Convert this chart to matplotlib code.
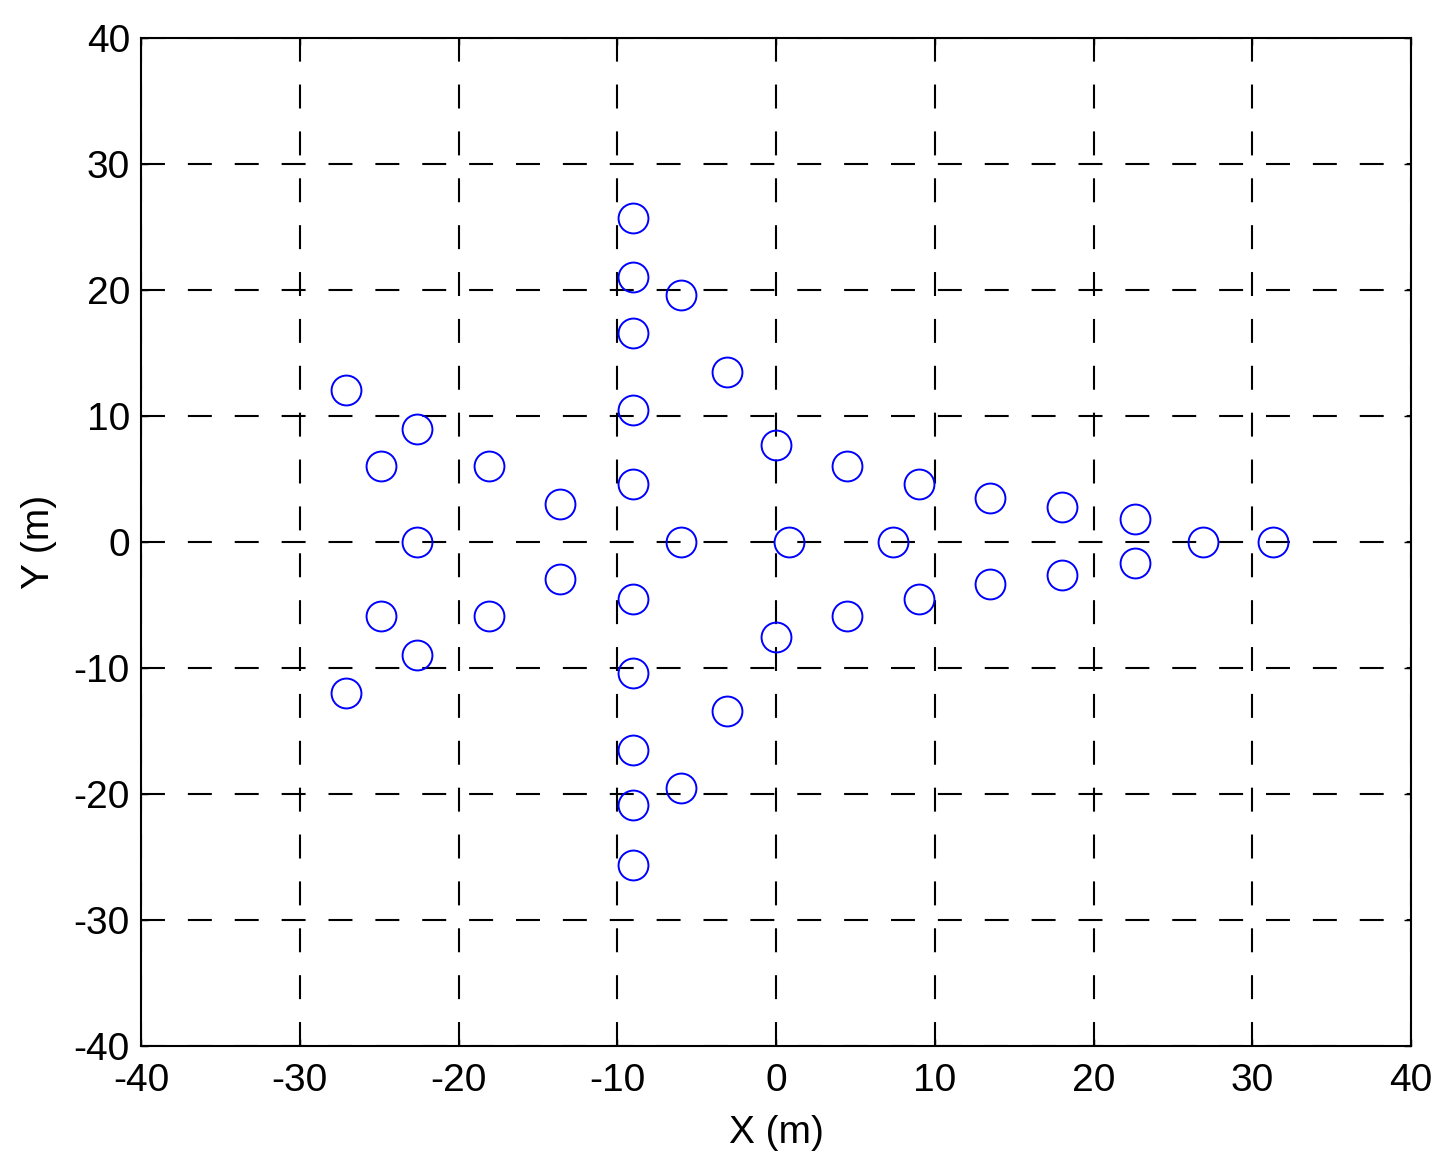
import matplotlib
matplotlib.use("Agg")
import matplotlib.pyplot as plt

plt.rcParams['font.family'] = ['Liberation Sans', 'DejaVu Sans']
plt.rcParams['axes.unicode_minus'] = False

x_vals = [-9.0, -9.0, -6.0, -9.0, -3.1, -9.0, -27.1, -22.6, -24.9, -18.1, -13.6, -9.0,
          0.0, 4.5, 9.0, 13.5, 18.0, 22.6,
          -22.6, -6.0, 0.8, 7.4, 26.9, 31.3,
          -9.0, -9.0, -6.0, -9.0, -3.1, -9.0, -27.1, -22.6, -24.9, -18.1, -13.6, -9.0,
          0.0, 4.5, 9.0, 13.5, 18.0, 22.6]
y_vals = [25.7, 21.0, 19.6, 16.6, 13.5, 10.5, 12.1, 9.0, 6.0, 6.0, 3.0, 4.6,
          7.7, 6.0, 4.6, 3.5, 2.8, 1.8,
          0.0, 0.0, 0.0, 0.0, 0.0, 0.0,
          -25.6, -20.9, -19.5, -16.5, -13.4, -10.4, -12.0, -9.0, -5.9, -5.9, -2.9, -4.5,
          -7.5, -5.9, -4.5, -3.3, -2.6, -1.7]
ticks = [-40, -30, -20, -10, 0, 10, 20, 30, 40]

fig = plt.figure(figsize=(14.52, 11.70), dpi=100)
ax = fig.add_axes([141/1452, 1 - 1046/1170, 1270/1452, 1008/1170])
ax.plot(x_vals, y_vals, linestyle='none', marker='o', markersize=21.5,
        markerfacecolor='none', markeredgecolor='#0000ff', markeredgewidth=1.4, zorder=3)
ax.set_xlim(-40, 40)
ax.set_ylim(-40, 40)
ax.set_xticks(ticks)
ax.set_yticks(ticks)
ax.grid(True, color='black', linestyle=(0, (11.5, 11)), linewidth=1.5)
ax.tick_params(direction='in', length=5, width=1, top=True, right=True,
               labelsize=28)
ax.tick_params(axis='x', pad=12)
ax.tick_params(axis='y', pad=8)
for s in ax.spines.values():
    s.set_linewidth(1.5)
ax.set_xlabel('X (m)', fontsize=28, labelpad=12)
ax.set_ylabel('Y (m)', fontsize=28, labelpad=12)
fig.savefig('out.png', dpi=100)
